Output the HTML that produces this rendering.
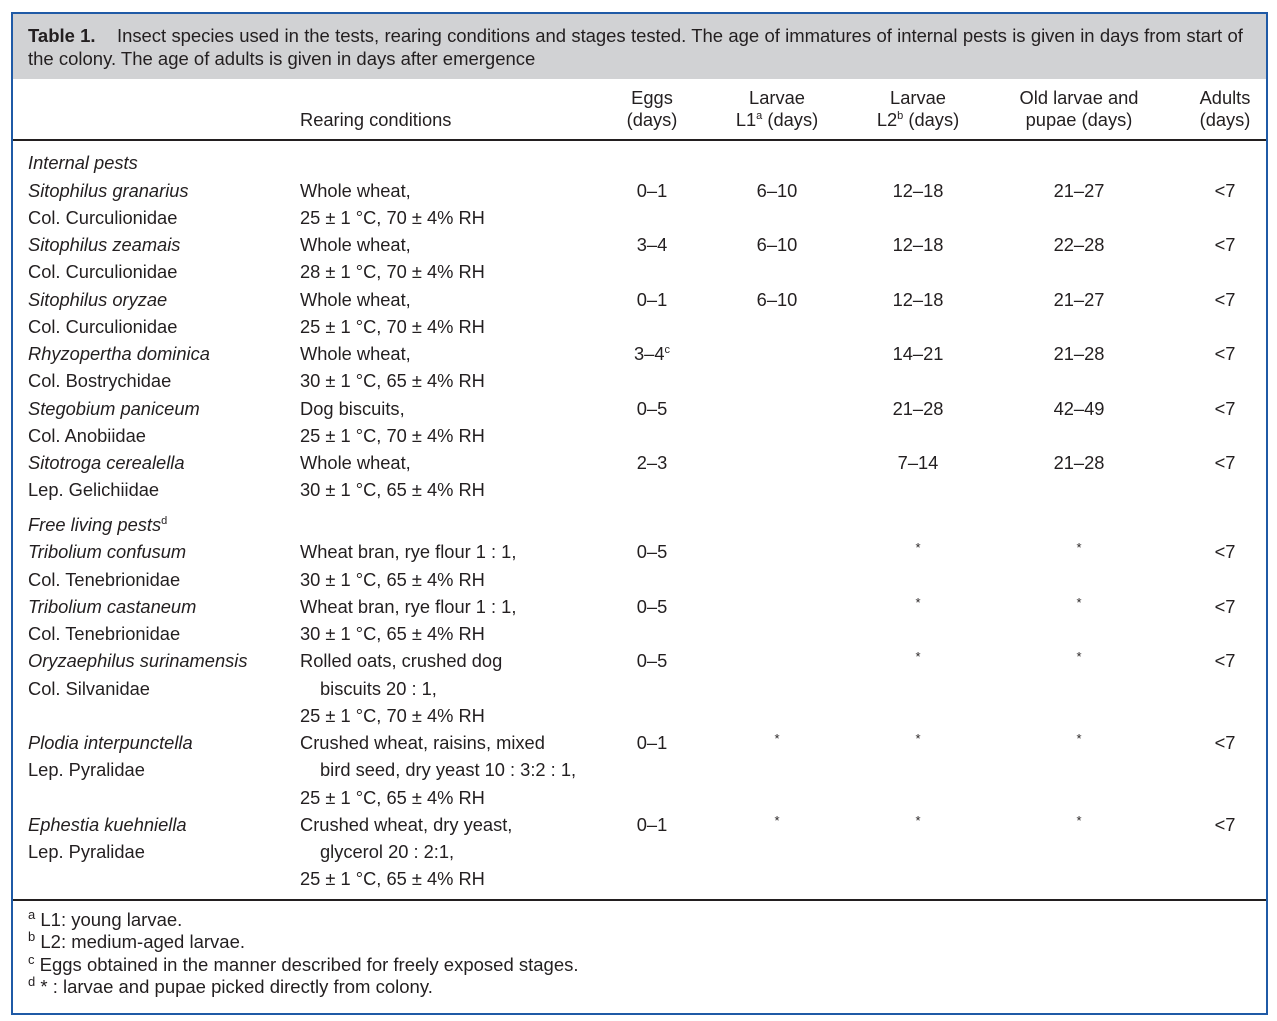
<!DOCTYPE html>
<html><head><meta charset="utf-8"><style>
body{margin:0;width:1277px;height:1021px;background:#fff;position:relative;font-family:"Liberation Sans",sans-serif;color:#231f20;overflow:hidden}
.b{position:absolute;left:11px;top:12px;width:1253px;height:999px;border:2px solid #1f5aa6}
.g{position:absolute;left:13px;top:14px;width:1253px;height:65px;background:#d1d2d4}
.hl{position:absolute;left:13px;width:1253px;height:2px;background:#231f20}
.t{position:absolute;font-size:18.3px;line-height:27px;height:27px;white-space:nowrap}
.c{transform:translateX(-50%);text-align:center}
i{font-style:italic}
sup{font-size:11px;vertical-align:7px;line-height:0}
.f{font-size:18.5px}
.f sup{font-size:13px}
</style></head><body>
<div class="g"></div><div class="b"></div>
<div class="hl" style="top:139px"></div>
<div class="hl" style="top:899px"></div>
<div class="t f" style="left:28px;top:22px"><b>Table 1.</b></div>
<div class="t f" style="left:117px;top:22px;word-spacing:0.3px;letter-spacing:-0.05px">Insect species used in the tests, rearing conditions and stages tested. The age of immatures of internal pests is given in days from start of</div>
<div class="t f" style="left:28px;top:45px">the colony. The age of adults is given in days after emergence</div>

<div class="t" style="left:300px;top:106px">Rearing conditions</div>
<div class="t c" style="left:652px;top:84px">Eggs</div><div class="t c" style="left:652px;top:106px">(days)</div>
<div class="t c" style="left:777px;top:84px">Larvae</div><div class="t c" style="left:777px;top:106px">L1<sup>a</sup> (days)</div>
<div class="t c" style="left:918px;top:84px">Larvae</div><div class="t c" style="left:918px;top:106px">L2<sup>b</sup> (days)</div>
<div class="t c" style="left:1079px;top:84px">Old larvae and</div><div class="t c" style="left:1079px;top:106px">pupae (days)</div>
<div class="t c" style="left:1225px;top:84px">Adults</div><div class="t c" style="left:1225px;top:106px">(days)</div>

<div class="t" style="left:28px;top:149px"><i>Internal pests</i></div>

<div class="t" style="left:28px;top:177px"><i>Sitophilus granarius</i></div><div class="t" style="left:28px;top:204px">Col. Curculionidae</div>
<div class="t" style="left:300px;top:177px">Whole wheat,</div><div class="t" style="left:300px;top:204px">25 ± 1 °C, 70 ± 4% RH</div>
<div class="t c" style="left:652px;top:177px">0–1</div><div class="t c" style="left:777px;top:177px">6–10</div><div class="t c" style="left:918px;top:177px">12–18</div><div class="t c" style="left:1079px;top:177px">21–27</div><div class="t c" style="left:1225px;top:177px">&lt;7</div>

<div class="t" style="left:28px;top:231px"><i>Sitophilus zeamais</i></div><div class="t" style="left:28px;top:258px">Col. Curculionidae</div>
<div class="t" style="left:300px;top:231px">Whole wheat,</div><div class="t" style="left:300px;top:258px">28 ± 1 °C, 70 ± 4% RH</div>
<div class="t c" style="left:652px;top:231px">3–4</div><div class="t c" style="left:777px;top:231px">6–10</div><div class="t c" style="left:918px;top:231px">12–18</div><div class="t c" style="left:1079px;top:231px">22–28</div><div class="t c" style="left:1225px;top:231px">&lt;7</div>

<div class="t" style="left:28px;top:286px"><i>Sitophilus oryzae</i></div><div class="t" style="left:28px;top:313px">Col. Curculionidae</div>
<div class="t" style="left:300px;top:286px">Whole wheat,</div><div class="t" style="left:300px;top:313px">25 ± 1 °C, 70 ± 4% RH</div>
<div class="t c" style="left:652px;top:286px">0–1</div><div class="t c" style="left:777px;top:286px">6–10</div><div class="t c" style="left:918px;top:286px">12–18</div><div class="t c" style="left:1079px;top:286px">21–27</div><div class="t c" style="left:1225px;top:286px">&lt;7</div>

<div class="t" style="left:28px;top:340px"><i>Rhyzopertha dominica</i></div><div class="t" style="left:28px;top:367px">Col. Bostrychidae</div>
<div class="t" style="left:300px;top:340px">Whole wheat,</div><div class="t" style="left:300px;top:367px">30 ± 1 °C, 65 ± 4% RH</div>
<div class="t c" style="left:652px;top:340px">3–4<sup>c</sup></div><div class="t c" style="left:918px;top:340px">14–21</div><div class="t c" style="left:1079px;top:340px">21–28</div><div class="t c" style="left:1225px;top:340px">&lt;7</div>

<div class="t" style="left:28px;top:395px"><i>Stegobium paniceum</i></div><div class="t" style="left:28px;top:422px">Col. Anobiidae</div>
<div class="t" style="left:300px;top:395px">Dog biscuits,</div><div class="t" style="left:300px;top:422px">25 ± 1 °C, 70 ± 4% RH</div>
<div class="t c" style="left:652px;top:395px">0–5</div><div class="t c" style="left:918px;top:395px">21–28</div><div class="t c" style="left:1079px;top:395px">42–49</div><div class="t c" style="left:1225px;top:395px">&lt;7</div>

<div class="t" style="left:28px;top:449px"><i>Sitotroga cerealella</i></div><div class="t" style="left:28px;top:476px">Lep. Gelichiidae</div>
<div class="t" style="left:300px;top:449px">Whole wheat,</div><div class="t" style="left:300px;top:476px">30 ± 1 °C, 65 ± 4% RH</div>
<div class="t c" style="left:652px;top:449px">2–3</div><div class="t c" style="left:918px;top:449px">7–14</div><div class="t c" style="left:1079px;top:449px">21–28</div><div class="t c" style="left:1225px;top:449px">&lt;7</div>

<div class="t" style="left:28px;top:511px"><i>Free living pests</i><sup>d</sup></div>

<div class="t" style="left:28px;top:538px"><i>Tribolium confusum</i></div><div class="t" style="left:28px;top:566px">Col. Tenebrionidae</div>
<div class="t" style="left:300px;top:538px">Wheat bran, rye flour 1 : 1,</div><div class="t" style="left:300px;top:566px">30 ± 1 °C, 65 ± 4% RH</div>
<div class="t c" style="left:652px;top:538px">0–5</div><div class="t c" style="left:918px;top:534px;font-size:13px">*</div><div class="t c" style="left:1079px;top:534px;font-size:13px">*</div><div class="t c" style="left:1225px;top:538px">&lt;7</div>

<div class="t" style="left:28px;top:593px"><i>Tribolium castaneum</i></div><div class="t" style="left:28px;top:620px">Col. Tenebrionidae</div>
<div class="t" style="left:300px;top:593px">Wheat bran, rye flour 1 : 1,</div><div class="t" style="left:300px;top:620px">30 ± 1 °C, 65 ± 4% RH</div>
<div class="t c" style="left:652px;top:593px">0–5</div><div class="t c" style="left:918px;top:589px;font-size:13px">*</div><div class="t c" style="left:1079px;top:589px;font-size:13px">*</div><div class="t c" style="left:1225px;top:593px">&lt;7</div>

<div class="t" style="left:28px;top:647px"><i>Oryzaephilus surinamensis</i></div><div class="t" style="left:28px;top:675px">Col. Silvanidae</div>
<div class="t" style="left:300px;top:647px">Rolled oats, crushed dog</div><div class="t" style="left:320px;top:675px">biscuits 20 : 1,</div><div class="t" style="left:300px;top:702px">25 ± 1 °C, 70 ± 4% RH</div>
<div class="t c" style="left:652px;top:647px">0–5</div><div class="t c" style="left:918px;top:643px;font-size:13px">*</div><div class="t c" style="left:1079px;top:643px;font-size:13px">*</div><div class="t c" style="left:1225px;top:647px">&lt;7</div>

<div class="t" style="left:28px;top:729px"><i>Plodia interpunctella</i></div><div class="t" style="left:28px;top:756px">Lep. Pyralidae</div>
<div class="t" style="left:300px;top:729px">Crushed wheat, raisins, mixed</div><div class="t" style="left:320px;top:756px">bird seed, dry yeast 10 : 3:2 : 1,</div><div class="t" style="left:300px;top:784px">25 ± 1 °C, 65 ± 4% RH</div>
<div class="t c" style="left:652px;top:729px">0–1</div><div class="t c" style="left:777px;top:725px;font-size:13px">*</div><div class="t c" style="left:918px;top:725px;font-size:13px">*</div><div class="t c" style="left:1079px;top:725px;font-size:13px">*</div><div class="t c" style="left:1225px;top:729px">&lt;7</div>

<div class="t" style="left:28px;top:811px"><i>Ephestia kuehniella</i></div><div class="t" style="left:28px;top:838px">Lep. Pyralidae</div>
<div class="t" style="left:300px;top:811px">Crushed wheat, dry yeast,</div><div class="t" style="left:320px;top:838px">glycerol 20 : 2:1,</div><div class="t" style="left:300px;top:865px">25 ± 1 °C, 65 ± 4% RH</div>
<div class="t c" style="left:652px;top:811px">0–1</div><div class="t c" style="left:777px;top:807px;font-size:13px">*</div><div class="t c" style="left:918px;top:807px;font-size:13px">*</div><div class="t c" style="left:1079px;top:807px;font-size:13px">*</div><div class="t c" style="left:1225px;top:811px">&lt;7</div>

<div class="t f" style="left:28px;top:906px"><sup>a</sup> L1: young larvae.</div>
<div class="t f" style="left:28px;top:928px"><sup>b</sup> L2: medium-aged larvae.</div>
<div class="t f" style="left:28px;top:951px"><sup>c</sup> Eggs obtained in the manner described for freely exposed stages.</div>
<div class="t f" style="left:28px;top:973px"><sup>d</sup> * : larvae and pupae picked directly from colony.</div>
</body></html>
